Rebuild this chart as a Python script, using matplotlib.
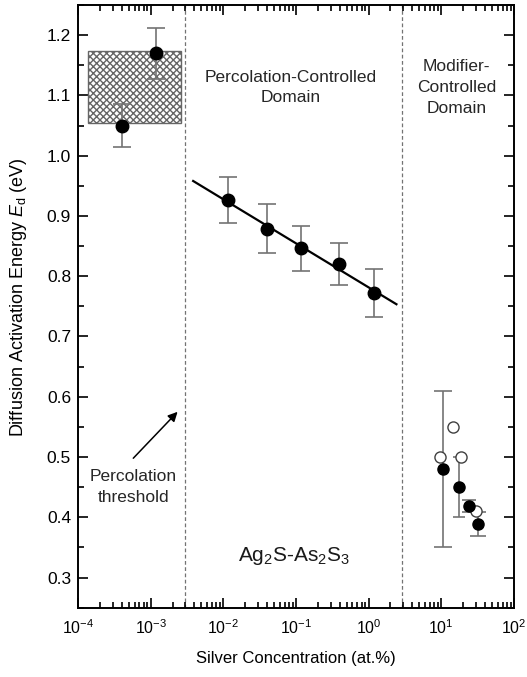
import numpy as np
import matplotlib
matplotlib.use('Agg')
import matplotlib.pyplot as plt
from matplotlib.patches import Rectangle
from matplotlib.ticker import LogLocator, MultipleLocator, NullFormatter

plt.rcParams['font.family'] = ['Liberation Sans', 'DejaVu Sans']
plt.rcParams['mathtext.fontset'] = 'custom'
plt.rcParams['mathtext.rm'] = 'Liberation Sans'
plt.rcParams['mathtext.it'] = 'Liberation Sans:italic'
plt.rcParams['hatch.color'] = '0.3'
plt.rcParams['hatch.linewidth'] = 1.0

# low-concentration samples (below percolation threshold)
low_x = [4.0e-4, 1.18e-3]
low_e = [1.05, 1.17]
low_err = [0.035, 0.042]
low_band = (1.37e-4, 2.6e-3, 1.054, 1.173)

# percolation-controlled domain
perc_x = [0.0118, 0.0394, 0.118, 0.389, 1.18]
perc_e = [0.926, 0.879, 0.846, 0.820, 0.772]
perc_err = [0.038, 0.040, 0.037, 0.035, 0.040]
fit_x = [3.85e-3, 2.42]
fit_e = [0.958, 0.7535]

# modifier-controlled domain, filled and open symbols
mod_x = [10.6, 17.4, 24.0, 32.5]
mod_e = [0.48, 0.45, 0.419, 0.389]
mod_err = [0.13, 0.05, 0.01, 0.02]
mod_caps = [6.5, 4.5, 5.0, 6.0]
open_x = [9.75, 14.5, 19.0, 29.8]
open_e = [0.50, 0.55, 0.50, 0.41]

threshold_x = [3.0e-3, 2.9]
x_ticks = [1e-4, 1e-3, 1e-2, 1e-1, 1e0, 1e1, 1e2]

fig = plt.figure(figsize=(5.27, 6.77), dpi=100)
ax = fig.add_axes([0.148, 0.1024, 0.827, 0.8902])

for xv in threshold_x:
    ax.axvline(xv, color='0.45', lw=0.9, ls=(0, (3, 2)), zorder=1)

x0, x1, y0, y1 = low_band
ax.add_patch(Rectangle((x0, y0), x1 - x0, y1 - y0, facecolor='white',
                       edgecolor='0.4', lw=1.0, hatch='xxxxx', zorder=2))

ebar = dict(fmt='none', ecolor='0.45', elinewidth=1.2, capthick=1.2, zorder=3)
ax.errorbar(low_x, low_e, yerr=low_err, capsize=6.5, **ebar)
ax.plot(low_x, low_e, 'o', color='black', ms=9, zorder=5)

ax.plot(fit_x, fit_e, '-', color='black', lw=1.6, zorder=4)
ax.errorbar(perc_x, perc_e, yerr=perc_err, capsize=6.5, **ebar)
ax.plot(perc_x, perc_e, 'o', color='black', ms=9, zorder=5)

for xv, ev, er, cs in zip(mod_x, mod_e, mod_err, mod_caps):
    ax.errorbar([xv], [ev], yerr=[er], capsize=cs, **ebar)
ax.plot(open_x, open_e, 'o', mfc='white', mec='0.25', mew=1.0, ms=8, zorder=4)
ax.plot(mod_x, mod_e, 'o', color='black', ms=8, zorder=5)

ax.set_xscale('log')
ax.set_xlim(1e-4, 1e2)
ax.set_ylim(0.25, 1.25)
ax.set_xticks(x_ticks)
ax.yaxis.set_major_locator(MultipleLocator(0.1))
ax.yaxis.set_minor_locator(MultipleLocator(0.05))
ax.xaxis.set_minor_locator(LogLocator(base=10, subs=np.arange(2, 10), numticks=20))
ax.xaxis.set_minor_formatter(NullFormatter())
ax.tick_params(which='both', direction='in', top=True, right=True, width=1.2)
ax.tick_params(which='major', length=7)
ax.tick_params(which='minor', length=4)
ax.tick_params(axis='x', labelsize=11.5, pad=8)
ax.tick_params(axis='y', labelsize=12.5, pad=5)
for sp in ax.spines.values():
    sp.set_linewidth(1.4)

ax.set_xlabel('Silver Concentration (at.%)', fontsize=12, labelpad=10)
ax.set_ylabel(r'Diffusion Activation Energy $E_\mathrm{d}$ (eV)', fontsize=13)
ax.yaxis.set_label_coords(-0.112, 0.515)

ax.text(0.0838, 1.113, 'Percolation-Controlled\nDomain', ha='center',
        va='center', fontsize=12.5, color='0.15', linespacing=1.35)
ax.text(16.2, 1.113, 'Modifier-\nControlled\nDomain', ha='center',
        va='center', fontsize=12.5, color='0.15', linespacing=1.5)
ax.text(0.095, 0.335, r'Ag$_2$S-As$_2$S$_3$', ha='center', va='center',
        fontsize=15, color='0.1')
ax.text(5.8e-4, 0.450, 'Percolation\nthreshold', ha='center', va='center',
        fontsize=12.5, color='0.15', linespacing=1.5)
ax.annotate('', xy=(2.35e-3, 0.575), xytext=(5.77e-4, 0.498),
            arrowprops=dict(arrowstyle='-|>', color='black', lw=1.1,
                            mutation_scale=14, shrinkA=0, shrinkB=0))

fig.savefig('out.png', dpi=100)
